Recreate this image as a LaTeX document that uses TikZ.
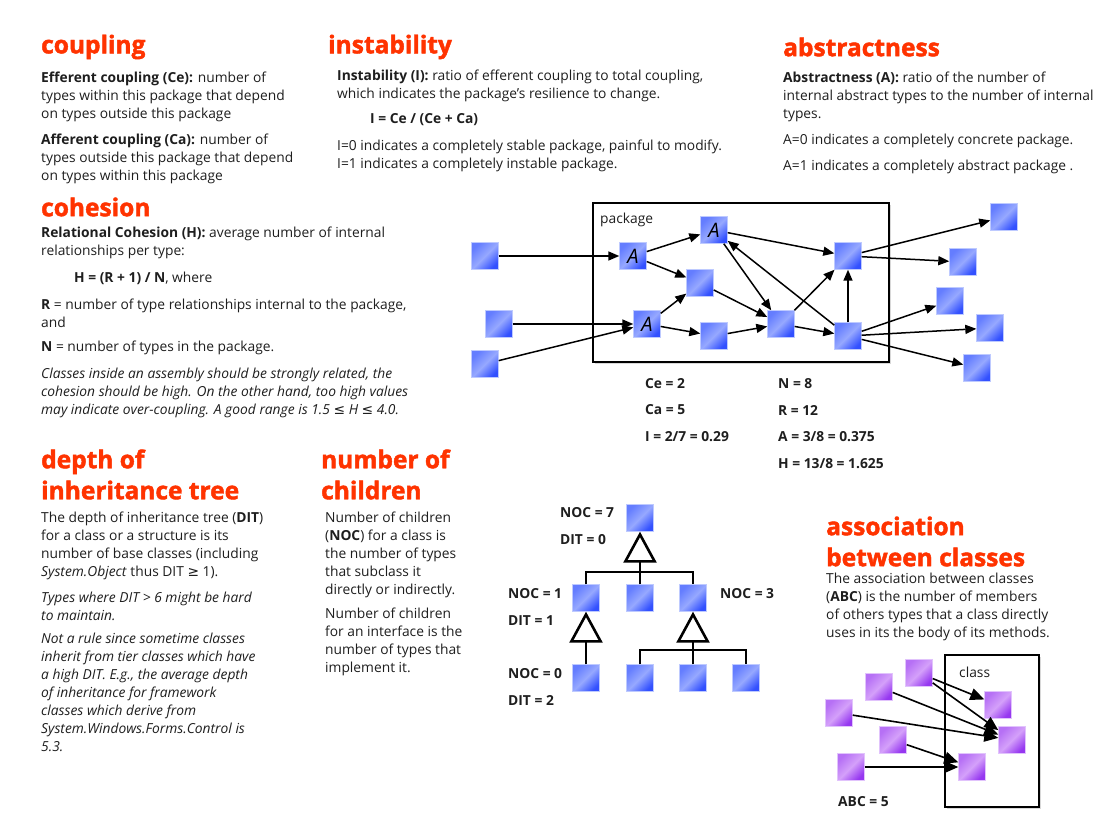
\documentclass[tikz,border=0pt]{standalone}
\usepackage{fontspec}
\setmainfont{Open Sans}
\newfontfamily\symfont{DejaVu Sans}
\newfontfamily\titlefamily{Open Sans}[BoldFeatures={FakeBold=1.8}]
\usetikzlibrary{arrows.meta,shadows}

\definecolor{titlered}{RGB}{255,51,0}
\definecolor{bodytext}{RGB}{30,30,30}
\definecolor{sqlight}{RGB}{150,168,255}
\definecolor{sqmid}{RGB}{100,125,255}
\definecolor{sqdark}{RGB}{50,80,255}
\definecolor{sqedge}{RGB}{190,202,255}
\definecolor{pulight}{RGB}{212,160,250}
\definecolor{pumid}{RGB}{182,112,245}
\definecolor{pudark}{RGB}{150,55,240}
\definecolor{puedge}{RGB}{225,195,252}

\pgfdeclarehorizontalshading{bluesq}{100bp}{color(0bp)=(sqmid); color(25bp)=(sqmid); color(50bp)=(sqlight); color(75bp)=(sqdark); color(100bp)=(sqdark)}
\pgfdeclarehorizontalshading{purplesq}{100bp}{color(0bp)=(pumid); color(25bp)=(pumid); color(50bp)=(pulight); color(75bp)=(pudark); color(100bp)=(pudark)}

\newcommand\bodyfont{\fontsize{13.8}{18}\selectfont}
\newcommand\headfont{\titlefamily\fontsize{24.5}{31}\selectfont\bfseries}
\newcommand\lesym{{\symfont ≤}}
\newcommand\gesym{{\symfont ≥}}

\tikzset{
  sectitle/.style = {anchor=west, inner sep=0pt, align=left, text=titlered, font=\headfont},
  para/.style     = {anchor=west, inner sep=0pt, align=left, text=bodytext, font=\bodyfont},
  val/.style      = {anchor=west, inner sep=0pt, text=bodytext, font=\bodyfont\bfseries},
  cls/.style      = {minimum size=27pt, inner sep=0pt, shade, shading=bluesq, shading angle=-45,
                     draw=sqedge, line width=0.4pt, font=\fontsize{20}{20}\selectfont\itshape},
  ext/.style      = {minimum size=27pt, inner sep=0pt, shade, shading=purplesq, shading angle=-45,
                     draw=puedge, line width=0.4pt},
  frame/.style    = {draw, line width=2.8pt, fill=white,
                     drop shadow={shadow xshift=2pt, shadow yshift=-2pt, opacity=0.3}},
  dep/.style      = {-{Triangle[length=11pt,width=9pt]}, line width=1.5pt},
  uses/.style     = {-{Triangle[length=14pt,width=12pt]}, line width=1.6pt},
  treeline/.style = {line width=2.6pt},
  inherit/.style  = {-{Triangle[length=31pt,width=33pt,fill=white]}, line width=2.6pt},
}

\begin{document}
\begin{tikzpicture}[x=1pt, y=-1pt]
\useasboundingbox[fill=white] (0,0) rectangle (1106,821);

% coupling
\node[sectitle] (coupling) at (41,47) {coupling};
\node[para] (efferent) at (41,97) {\textbf{Efferent coupling (Ce):} number of\\types within this package that depend\\on types outside this package};
\node[para] (afferent) at (41,159) {\textbf{Afferent coupling (Ca):} number of\\types outside this package that depend\\on types within this package};

% instability
\node[sectitle] (instability) at (328,47) {instability};
\node[para] (instdef) at (337,86) {\textbf{Instability (I):} ratio of efferent coupling to total coupling,\\which indicates the package’s resilience to change.};
\node[para] (instformula) at (370,120) {\textbf{I = Ce / (Ce + Ca)}};
\node[para] (instrange) at (337,156) {I=0 indicates a completely stable package, painful to modify.\\I=1 indicates a completely instable package.};

% abstractness
\node[sectitle] (abstractness) at (783,47) {abstractness};
\node[para] (absdef) at (783,97) {\textbf{Abstractness (A):} ratio of the number of\\internal abstract types to the number of internal\\types.};
\node[para] (abszero) at (783,141) {A=0 indicates a completely concrete package.};
\node[para] (absone) at (783,167) {A=1 indicates a completely abstract package .};

% cohesion
\node[sectitle] (cohesion) at (41,207) {cohesion};
\node[para] (cohdef) at (41,243) {\textbf{Relational Cohesion (H):} average number of internal\\relationships per type:};
\node[para] (cohformula) at (74,278) {\textbf{H = (R + 1) / N}, where};
\node[para] (cohr) at (41,313) {\textbf{R} = number of type relationships internal to the package,\\and};
\node[para] (cohn) at (41,348) {\textbf{N} = number of types in the package.};
\node[para, font=\bodyfont\itshape] (cohnote) at (41,393) {Classes inside an assembly should be strongly related, the\\cohesion should be high. On the other hand, too high values\\may indicate over-coupling. A good range is 1.5 \lesym{} H \lesym{} 4.0.};

% package example
\node[frame, minimum width=296pt, minimum height=159pt] (pkg) at (741,282.5) {};
\node[para] (pkglabel) at (600,220) {package};

\node[cls] (in1) at (485,256) {};
\node[cls] (in2) at (499,324) {};
\node[cls] (in3) at (485,364) {};
\node[cls] (a1) at (633,256) {A};
\node[cls] (a2) at (714,230) {A};
\node[cls] (a3) at (647,324) {A};
\node[cls] (m1) at (700,283) {};
\node[cls] (m2) at (714,336) {};
\node[cls] (c) at (781,324) {};
\node[cls] (r1) at (848,256) {};
\node[cls] (r2) at (848,336) {};
\node[cls] (out1) at (1004,217) {};
\node[cls] (out2) at (963,262) {};
\node[cls] (out3) at (950,301) {};
\node[cls] (out4) at (990,328) {};
\node[cls] (out5) at (977,368) {};

\draw[dep] (in1) -- (a1);
\draw[dep] (in2) -- (a3);
\draw[dep] (in3) -- (a3);
\draw[dep] (a1) -- (a2);
\draw[dep] (a1) -- (m1);
\draw[dep] (a3) -- (m1);
\draw[dep] (a3) -- (m2);
\draw[dep] (m1) -- (c);
\draw[dep] (m2) -- (c);
\draw[dep] (a2) -- (r1);
\draw[dep] (a2) -- (c);
\draw[dep] (r2) -- (a2);
\draw[dep] (c) -- (r1);
\draw[dep] (c) -- (r2);
\draw[dep] (r2) -- (r1);
\draw[dep] (r1) -- (out1);
\draw[dep] (r1) -- (out2);
\draw[dep] (r2) -- (out3);
\draw[dep] (r2) -- (out4);
\draw[dep] (r2) -- (out5);

\node[val] (ceval) at (645,384) {Ce = 2};
\node[val] (caval) at (645,410) {Ca = 5};
\node[val] (ival) at (645,437) {I = 2/7 = 0.29};
\node[val] (nval) at (778,384) {N = 8};
\node[val] (rval) at (778,411) {R = 12};
\node[val] (aval) at (778,437) {A = 3/8 = 0.375};
\node[val] (hval) at (778,464) {H = 13/8 = 1.625};

% depth of inheritance tree
\node[sectitle] (dit) at (41,474.5) {depth of\\inheritance tree};
\node[para] (ditdef) at (41,546) {The depth of inheritance tree (\textbf{DIT})\\for a class or a structure is its\\number of base classes (including\\\textit{System.Object} thus DIT \gesym{} 1).};
\node[para, font=\bodyfont\itshape] (ditwarn) at (41,606) {Types where DIT > 6 might be hard\\to maintain.};
\node[para, font=\bodyfont\itshape] (ditnote) at (41,692) {Not a rule since sometime classes\\inherit from tier classes which have\\a high DIT. E.g., the average depth\\of inheritance for framework\\classes which derive from\\System.Windows.Forms.Control is\\5.3.};

% number of children
\node[sectitle] (noc) at (321,474.5) {number of\\children};
\node[para] (nocdef) at (325,555) {Number of children\\(\textbf{NOC}) for a class is\\the number of types\\that subclass it\\directly or indirectly.};
\node[para] (nocitf) at (325,642) {Number of children\\for an interface is the\\number of types that\\implement it.};

% inheritance tree example
\node[cls] (root) at (640,518) {};
\node[cls] (c1) at (586,598) {};
\node[cls] (c2) at (640,598) {};
\node[cls] (c3) at (693,598) {};
\node[cls] (g1) at (586,678) {};
\node[cls] (g2) at (640,678) {};
\node[cls] (g3) at (693,678) {};
\node[cls] (g4) at (746,678) {};
\coordinate (bar1) at (640,572);
\coordinate (bar2) at (693,650);

\draw[treeline] (c1.north) |- (bar1) -| (c3.north);
\draw[treeline] (c2.north) -- (bar1);
\draw[inherit] (bar1) -- (root.south);
\draw[inherit] (g1.north) -- (c1.south);
\draw[treeline] (g2.north) |- (bar2) -| (g4.north);
\draw[treeline] (g3.north) -- (bar2);
\draw[inherit] (bar2) -- (c3.south);

\node[val] (noc7) at (560,513) {NOC = 7};
\node[val] (dit0) at (560,540) {DIT = 0};
\node[val] (noc1) at (508,594) {NOC = 1};
\node[val] (dit1) at (508,621) {DIT = 1};
\node[val] (noc3) at (720,594) {NOC = 3};
\node[val] (noc0) at (508,674) {NOC = 0};
\node[val] (dit2) at (508,700) {DIT = 2};

% association between classes
\node[sectitle] (abc) at (826,541.5) {association\\between classes};
\node[para] (abcdef) at (826,607) {The association between classes\\(\textbf{ABC}) is the number of members\\of others types that a class directly\\uses in its the body of its methods.};

\node[frame, minimum width=94pt, minimum height=152pt] (klass) at (992,731) {};
\node[para] (klasslabel) at (959,672) {class};

\node[ext] (p1) at (919,673) {};
\node[ext] (p2) at (879,687) {};
\node[ext] (p3) at (839,713) {};
\node[ext] (p4) at (893,740) {};
\node[ext] (p5) at (851,767) {};
\node[ext] (q1) at (998,705) {};
\node[ext] (q2) at (1012,740) {};
\node[ext] (q3) at (972,767) {};

\draw[uses] (p1) -- (q1);
\draw[uses] (p1) -- (q2);
\draw[uses] (p2) -- (q2);
\draw[uses] (p3) -- (q2);
\draw[uses] (p4) -- (q3);
\draw[uses] (p5) -- (q3);

\node[val] (abcval) at (838,802) {ABC = 5};
\end{tikzpicture}
\end{document}
